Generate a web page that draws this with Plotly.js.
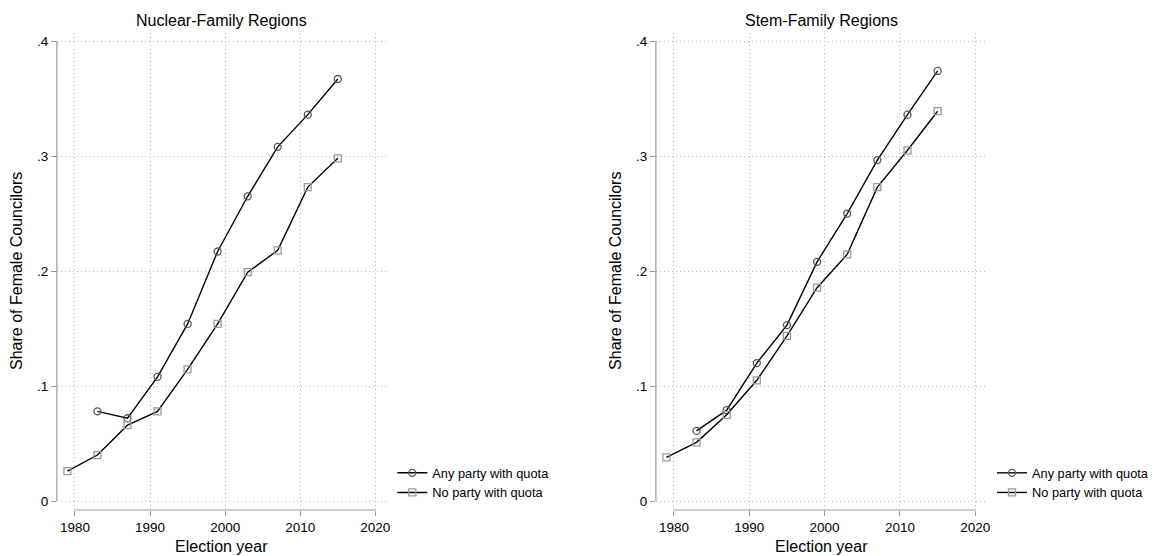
<!DOCTYPE html>
<html>
<head>
<meta charset="utf-8">
<script src="https://cdn.plot.ly/plotly-3.0.1.min.js"></script>
<style>html,body{margin:0;padding:0;background:#fff;}#chart{width:1154px;height:556px;}</style>
</head>
<body>
<div id="chart"></div>
<script>
// Data
const years = [1979, 1983, 1987, 1991, 1995, 1999, 2003, 2007, 2011, 2015];
const quotaYears = [1983, 1987, 1991, 1995, 1999, 2003, 2007, 2011, 2015];
const nuclearAny = [0.078, 0.072, 0.108, 0.154, 0.217, 0.265, 0.308, 0.336, 0.367];
const nuclearNo  = [0.026, 0.040, 0.066, 0.078, 0.1145, 0.154, 0.199, 0.218, 0.273, 0.298];
const stemAny    = [0.061, 0.079, 0.120, 0.153, 0.208, 0.250, 0.2965, 0.336, 0.374];
const stemNo     = [0.038, 0.051, 0.075, 0.105, 0.1437, 0.1855, 0.2145, 0.273, 0.305, 0.339];
const xTicks = [1980, 1990, 2000, 2010, 2020];
const yTicks = [0, 0.1, 0.2, 0.3, 0.4];
const yTickText = ['0', '.1', '.2', '.3', '.4'];
const panelTitles = ['Nuclear-Family Regions', 'Stem-Family Regions'];
const seriesNames = ['Any party with quota', 'No party with quota'];
const xTitle = 'Election year';
const yTitle = 'Share of Female Councilors';

const W = 1154, H = 556;
const FONT = 'Liberation Sans, Arial, Helvetica, sans-serif';

function anyTrace(x, y, xa, ya, lg) {
  return {x: x, y: y, xaxis: xa, yaxis: ya, legend: lg, name: seriesNames[0],
    type: 'scatter', mode: 'lines+markers',
    line: {color: '#000', width: 1.4},
    marker: {symbol: 'circle-open', size: 7, color: '#555', line: {width: 1.3, color: '#555'}}};
}
function noTrace(x, y, xa, ya, lg) {
  return {x: x, y: y, xaxis: xa, yaxis: ya, legend: lg, name: seriesNames[1],
    type: 'scatter', mode: 'lines+markers',
    line: {color: '#000', width: 1.4},
    marker: {symbol: 'square-open', size: 7, color: '#9a9a9a', line: {width: 1.3, color: '#9a9a9a'}}};
}

const data = [
  anyTrace(quotaYears, nuclearAny, 'x', 'y', 'legend'),
  noTrace(years, nuclearNo, 'x', 'y', 'legend'),
  anyTrace(quotaYears, stemAny, 'x2', 'y2', 'legend2'),
  noTrace(years, stemNo, 'x2', 'y2', 'legend2')
];

const yDom = [1 - 510 / H, 1 - 33 / H];
const GRID = {showgrid: true, gridcolor: '#b8b8b8', griddash: '1px,3px', gridwidth: 1};
function xAxis(dom, anchor) {
  return Object.assign({domain: dom, anchor: anchor, range: [1977.6, 2021.46],
    tickmode: 'array', tickvals: xTicks, ticks: 'outside', ticklen: 5, tickcolor: '#999', tickwidth: 1,
    showline: false, zeroline: false,
    tickfont: {family: FONT, size: 13.5, color: '#000'}, fixedrange: true}, GRID);
}
function yAxis(anchor) {
  return Object.assign({domain: yDom, anchor: anchor, range: [-0.0078, 0.407],
    tickmode: 'array', tickvals: yTicks, ticktext: yTickText, ticks: 'outside', ticklen: 5, tickcolor: '#999', tickwidth: 1,
    showline: false, zeroline: false,
    tickfont: {family: FONT, size: 13.5, color: '#000'}, fixedrange: true}, GRID);
}

const xd1 = [57 / W, 387 / W], xd2 = [657 / W, 988 / W];

const shapes = [];
[['x', 'y'], ['x2', 'y2']].forEach(function (p) {
  shapes.push({type: 'line', xref: p[0], yref: p[1] + ' domain', x0: xTicks[0], x1: xTicks[xTicks.length - 1], y0: 0, y1: 0,
    line: {color: '#999', width: 1.2}});
  shapes.push({type: 'line', xref: p[0] + ' domain', yref: p[1], x0: 0, x1: 0, y0: yTicks[0], y1: yTicks[yTicks.length - 1],
    line: {color: '#999', width: 1.2}});
});

const annotations = [];
[xd1, xd2].forEach(function (d, i) {
  const cx = (d[0] + d[1]) / 2;
  annotations.push({text: panelTitles[i], xref: 'paper', yref: 'paper', x: cx, y: 1 - 20 / H,
    xanchor: 'center', yanchor: 'middle', showarrow: false, font: {family: FONT, size: 16, color: '#000'}});
  annotations.push({text: xTitle, xref: 'paper', yref: 'paper', x: cx, y: 1 - 546 / H,
    xanchor: 'center', yanchor: 'middle', showarrow: false, font: {family: FONT, size: 16, color: '#000'}});
  annotations.push({text: yTitle, xref: 'paper', yref: 'paper', x: (d[0] * W - 41) / W, y: 1 - 271 / H,
    xanchor: 'center', yanchor: 'middle', textangle: -90, showarrow: false, font: {family: FONT, size: 16, color: '#000'}});
});

function legend(xpx) {
  return {x: xpx / W, y: 1 - 458 / H, xanchor: 'left', yanchor: 'top', bgcolor: 'rgba(0,0,0,0)',
    borderwidth: 0, font: {family: FONT, size: 12.8, color: '#000'}, tracegroupgap: 0, itemwidth: 30};
}

const layout = {
  width: W, height: H, margin: {l: 0, r: 0, t: 0, b: 0},
  paper_bgcolor: '#fff', plot_bgcolor: '#fff', showlegend: true,
  xaxis: xAxis(xd1, 'y'), yaxis: yAxis('x'),
  xaxis2: xAxis(xd2, 'y2'), yaxis2: yAxis('x2'),
  legend: legend(393), legend2: legend(994),
  shapes: shapes, annotations: annotations,
  font: {family: FONT, color: '#000'}
};

Plotly.newPlot('chart', data, layout, {displayModeBar: false, staticPlot: true});
</script>
</body>
</html>
